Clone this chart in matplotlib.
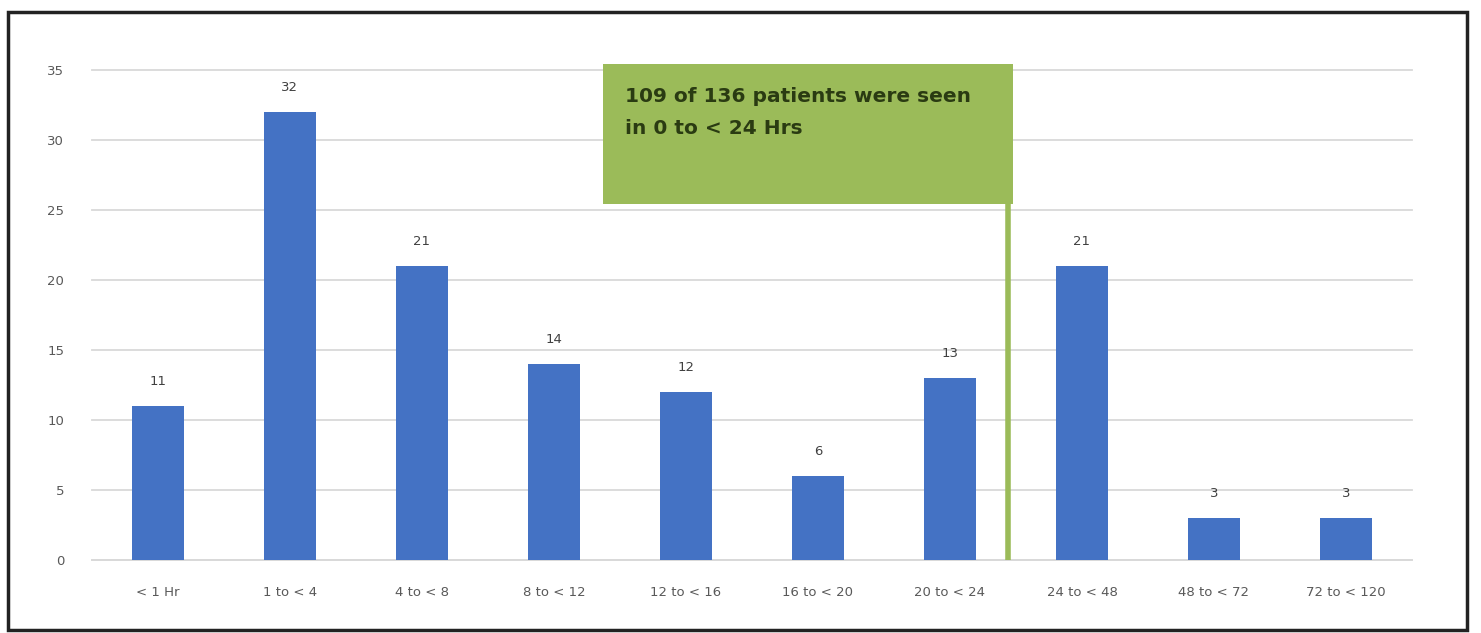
import matplotlib.pyplot as plt
from matplotlib.patches import Rectangle

categories = ["< 1 Hr", "1 to < 4", "4 to < 8", "8 to < 12", "12 to < 16",
              "16 to < 20", "20 to < 24", "24 to < 48", "48 to < 72", "72 to < 120"]
patients = [11, 32, 21, 14, 12, 6, 13, 21, 3, 3]
y_ticks = [0, 5, 10, 15, 20, 25, 30, 35]
note_text = "109 of 136 patients were seen\nin 0 to < 24 Hrs"

bar_color = "#4472C4"
green = "#9BBB59"
label_color = "#595959"

fig = plt.figure(figsize=(14.81, 6.33), dpi=100)
ax = fig.add_axes([0.0621, 0.1153, 0.8913, 0.774])

x = list(range(len(categories)))
bars = ax.bar(x, patients, width=0.4, color=bar_color, zorder=3)

for xi, v in zip(x, patients):
    ax.annotate(str(v), (xi, v), xytext=(0, 13), textcoords="offset points",
                ha="center", va="bottom", fontsize=9.5, color="#404040")

ax.set_xlim(-0.5, len(categories) - 0.5)
ax.set_ylim(0, 35)
ax.set_yticks(y_ticks)
ax.set_xticks(x)
ax.set_xticklabels(categories)
ax.tick_params(axis="both", length=0, colors=label_color, labelsize=9.5)
ax.tick_params(axis="x", pad=19)
ax.tick_params(axis="y", pad=20)
ax.grid(axis="y", color="#d9d9d9", linewidth=1.3, zorder=0)
for gl in ax.get_ygridlines():
    gl.set_clip_on(False)
for side in ["top", "right", "left"]:
    ax.spines[side].set_visible(False)
ax.spines["bottom"].set_color("#d9d9d9")
ax.spines["bottom"].set_linewidth(1.3)

# Callout box marking the 24-hour cut-off
box_left, box_right = 3.37, 6.48
box_bottom, box_top = 25.4, 35.4
ax.add_patch(Rectangle((box_left, box_bottom), box_right - box_left, box_top - box_bottom,
                       facecolor=green, edgecolor="none", zorder=4, clip_on=False))
ax.plot([6.44, 6.44], [0, box_bottom], color=green, linewidth=4, zorder=4,
        solid_capstyle="butt")
ax.text(box_left + 0.17, box_top - 1.6, note_text, ha="left", va="top",
        fontsize=14.5, fontweight="bold", color="#2a3b12", linespacing=1.85, zorder=5)

# Outer frame around the chart
fig.add_artist(Rectangle((8 / 1481, 1 - 630 / 633), (1467 - 8) / 1481, (630 - 12) / 633,
                         transform=fig.transFigure, fill=False, edgecolor="#222222",
                         linewidth=2.5))

fig.savefig("out.png", dpi=100)
